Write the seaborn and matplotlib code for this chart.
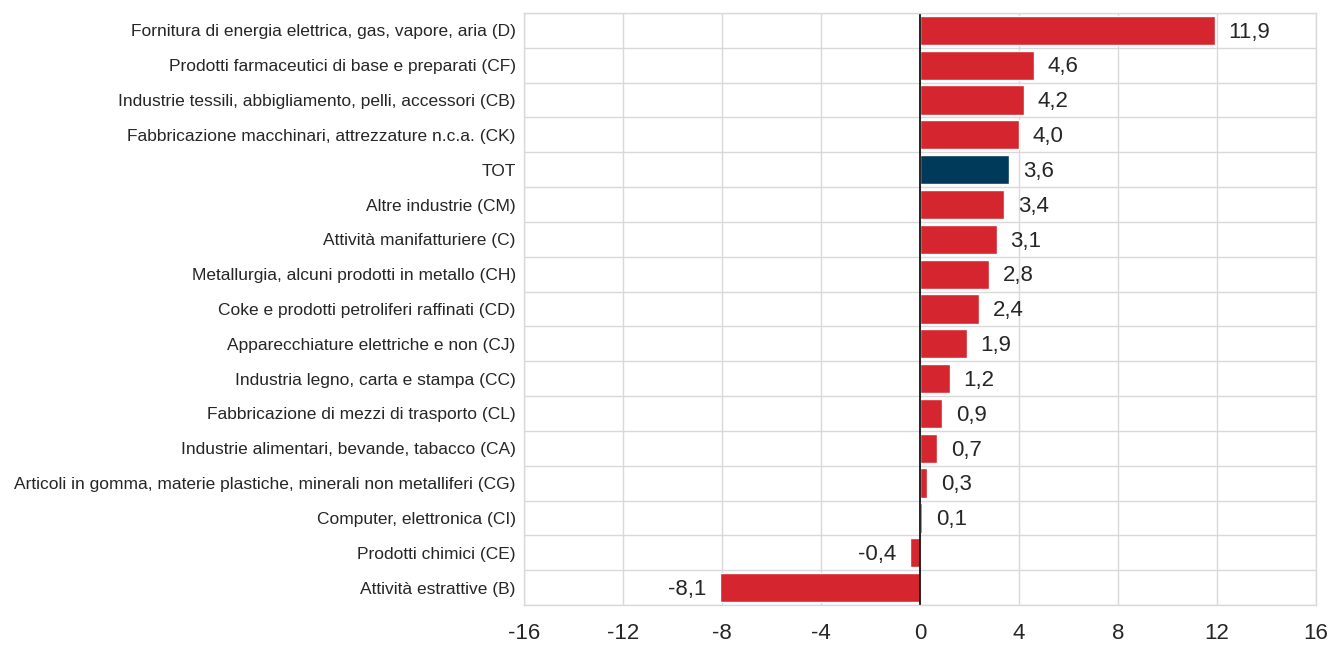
import pandas as pd
import matplotlib.pyplot as plt
import matplotlib.ticker as mticker
import seaborn as sns

# Dati (variazione %)
settori = [
    "Fornitura di energia elettrica, gas, vapore, aria (D)",
    "Prodotti farmaceutici di base e preparati (CF)",
    "Industrie tessili, abbigliamento, pelli, accessori (CB)",
    "Fabbricazione macchinari, attrezzature n.c.a. (CK)",
    "TOT",
    "Altre industrie (CM)",
    "Attività manifatturiere (C)",
    "Metallurgia, alcuni prodotti in metallo (CH)",
    "Coke e prodotti petroliferi raffinati (CD)",
    "Apparecchiature elettriche e non (CJ)",
    "Industria legno, carta e stampa (CC)",
    "Fabbricazione di mezzi di trasporto (CL)",
    "Industrie alimentari, bevande, tabacco (CA)",
    "Articoli in gomma, materie plastiche, minerali non metalliferi (CG)",
    "Computer, elettronica (CI)",
    "Prodotti chimici (CE)",
    "Attività estrattive (B)",
]
valori = [11.9, 4.6, 4.2, 4.0, 3.6, 3.4, 3.1, 2.8, 2.4, 1.9, 1.2, 0.9, 0.7, 0.3, 0.1, -0.4, -8.1]
tipo = ["Totale" if s == "TOT" else "Settore" for s in settori]

df = pd.DataFrame({"Settore": settori, "Valore": valori, "Tipo": tipo})

sns.set_theme(style="white")
plt.rcParams['font.family'] = ['Liberation Sans Narrow', 'Liberation Sans', 'DejaVu Sans']
plt.rcParams['axes.unicode_minus'] = False

fig = plt.figure(figsize=(13.35, 6.62), dpi=100)
ax = fig.add_axes([0.3925, 0.0861, 0.5933, 0.8943])

sns.barplot(data=df, y="Settore", x="Valore", hue="Tipo", orient="h",
            palette={"Settore": "#D52630", "Totale": "#003A5A"},
            saturation=1, dodge=False, width=0.84, legend=False, ax=ax)

# Etichette con virgola decimale
for i, v in enumerate(valori):
    testo = f"{v:.1f}".replace(".", ",")
    if v >= 0:
        ax.text(v + 0.55, i + 0.05, testo, va="center", ha="left", fontsize=16, color="#262626")
    else:
        ax.text(v - 0.55, i + 0.05, testo, va="center", ha="right", fontsize=16, color="#262626")

ax.set_xlim(-16, 16)
ax.set_ylim(len(settori) - 0.5, -0.5)
ax.set_xticks(range(-16, 17, 4))
ax.set_yticks(range(len(settori)), settori)
ax.yaxis.set_minor_locator(mticker.FixedLocator([i + 0.5 for i in range(-1, len(settori))]))
ax.grid(True, axis="x", color="#D9D9D9", linewidth=1)
ax.grid(True, axis="y", which="minor", color="#D9D9D9", linewidth=1)
ax.grid(False, axis="y", which="major")
ax.set_axisbelow(True)
ax.axvline(0, color="black", linewidth=1.2)

for sp in ax.spines.values():
    sp.set_color("#D9D9D9")
    sp.set_linewidth(1)

ax.set_xlabel("")
ax.set_ylabel("")
ax.tick_params(axis="x", labelsize=16, colors="#262626", length=0, pad=13)
ax.tick_params(axis="y", labelsize=12.5, colors="#262626", length=0, pad=6)
ax.tick_params(axis="y", which="minor", length=0)

fig.savefig("out.png", dpi=100)
